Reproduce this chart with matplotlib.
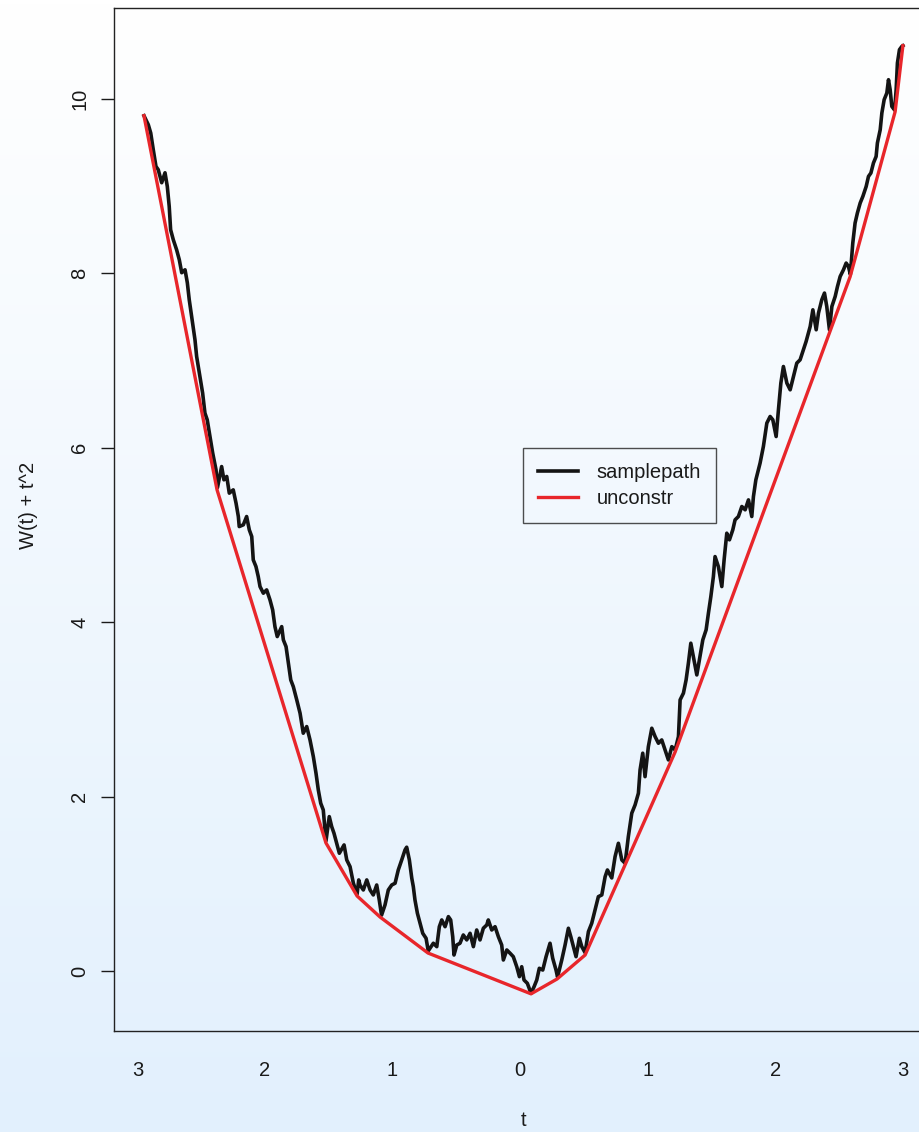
import numpy as np
import matplotlib.pyplot as plt
from matplotlib.colors import LinearSegmentedColormap

plt.rcParams['font.family'] = ['Liberation Sans', 'DejaVu Sans']
plt.rcParams['text.color'] = '#1a1a1a'
plt.rcParams['axes.labelcolor'] = '#1a1a1a'
plt.rcParams['xtick.color'] = '#1a1a1a'
plt.rcParams['ytick.color'] = '#1a1a1a'

# sample path of W(t) + t^2 on [-3, 3]
path_t = [
    -2.949, -2.915, -2.896, -2.876, -2.855, -2.837, -2.810, -2.784, -2.766, -2.751,
    -2.740, -2.719, -2.693, -2.672, -2.653, -2.627, -2.609, -2.594, -2.575, -2.549,
    -2.536, -2.510, -2.489, -2.471, -2.453, -2.431, -2.410, -2.384, -2.373, -2.340,
    -2.322, -2.300, -2.280, -2.249, -2.227, -2.209, -2.202, -2.170, -2.144, -2.123,
    -2.104, -2.092, -2.071, -2.053, -2.039, -2.013, -1.987, -1.961, -1.940, -1.922,
    -1.904, -1.869, -1.856, -1.835, -1.817, -1.798, -1.778, -1.751, -1.725, -1.700,
    -1.673, -1.647, -1.621, -1.600, -1.582, -1.563, -1.543, -1.522, -1.496, -1.477,
    -1.459, -1.438, -1.417, -1.380, -1.359, -1.333, -1.307, -1.278, -1.265, -1.255,
    -1.229, -1.202, -1.176, -1.151, -1.124, -1.104, -1.086, -1.059, -1.033, -1.006,
    -0.980, -0.955, -0.928, -0.902, -0.889, -0.868, -0.849, -0.837, -0.824, -0.805,
    -0.784, -0.763, -0.737, -0.720, -0.680, -0.653, -0.633, -0.614, -0.588, -0.562,
    -0.544, -0.528, -0.518, -0.496, -0.471, -0.445, -0.418, -0.392, -0.366, -0.340,
    -0.314, -0.288, -0.261, -0.249, -0.222, -0.196, -0.170, -0.144, -0.131, -0.104,
    -0.078, -0.053, -0.026, -0.005, 0.013, 0.031, 0.057, 0.086, 0.110, 0.131,
    0.151, 0.178, 0.204, 0.235, 0.256, 0.282, 0.294, 0.327, 0.353, 0.379,
    0.398, 0.418, 0.439, 0.465, 0.484, 0.510, 0.536, 0.562, 0.588, 0.614,
    0.641, 0.667, 0.685, 0.719, 0.745, 0.771, 0.798, 0.824, 0.849, 0.876,
    0.902, 0.928, 0.941, 0.962, 0.980, 1.006, 1.033, 1.059, 1.085, 1.111,
    1.137, 1.163, 1.190, 1.216, 1.242, 1.255, 1.281, 1.302, 1.320, 1.339,
    1.359, 1.386, 1.406, 1.433, 1.459, 1.477, 1.496, 1.516, 1.529, 1.555,
    1.582, 1.600, 1.621, 1.642, 1.668, 1.686, 1.712, 1.739, 1.765, 1.791,
    1.817, 1.830, 1.849, 1.882, 1.908, 1.935, 1.961, 1.982, 2.008, 2.026,
    2.045, 2.065, 2.092, 2.118, 2.144, 2.170, 2.196, 2.222, 2.243, 2.275,
    2.296, 2.322, 2.340, 2.366, 2.387, 2.405, 2.426, 2.445, 2.471, 2.489,
    2.510, 2.536, 2.557, 2.575, 2.590, 2.609, 2.627, 2.645, 2.667, 2.688,
    2.714, 2.732, 2.751, 2.771, 2.792, 2.802, 2.824, 2.837, 2.855, 2.876,
    2.889, 2.902, 2.915, 2.937, 2.949, 2.959, 2.975, 2.994, 3.002,
]
path_v = [
    9.805, 9.702, 9.607, 9.415, 9.224, 9.186, 9.037, 9.151, 8.994, 8.765,
    8.498, 8.383, 8.268, 8.154, 8.005, 8.039, 7.890, 7.695, 7.503, 7.236,
    7.045, 6.815, 6.625, 6.396, 6.319, 6.127, 5.937, 5.745, 5.540, 5.783,
    5.631, 5.669, 5.478, 5.516, 5.363, 5.210, 5.095, 5.115, 5.210, 5.057,
    4.981, 4.713, 4.637, 4.522, 4.407, 4.331, 4.369, 4.255, 4.140, 3.948,
    3.834, 3.948, 3.796, 3.719, 3.529, 3.337, 3.260, 3.108, 2.955, 2.726,
    2.802, 2.649, 2.458, 2.267, 2.076, 1.923, 1.846, 1.490, 1.770, 1.655,
    1.579, 1.464, 1.350, 1.445, 1.273, 1.196, 1.006, 0.880, 1.044, 0.986,
    0.929, 1.044, 0.929, 0.872, 0.986, 0.814, 0.640, 0.757, 0.929, 0.986,
    1.006, 1.158, 1.273, 1.388, 1.419, 1.273, 1.063, 0.967, 0.814, 0.662,
    0.547, 0.432, 0.375, 0.230, 0.318, 0.279, 0.508, 0.585, 0.508, 0.623,
    0.585, 0.393, 0.183, 0.298, 0.318, 0.413, 0.356, 0.432, 0.279, 0.470,
    0.356, 0.490, 0.528, 0.585, 0.470, 0.508, 0.393, 0.298, 0.126, 0.241,
    0.203, 0.164, 0.049, -0.065, 0.049, -0.103, -0.141, -0.255, -0.180, -0.103,
    0.031, 0.011, 0.164, 0.318, 0.146, 0.011, -0.069, 0.126, 0.298, 0.490,
    0.393, 0.279, 0.164, 0.375, 0.279, 0.210, 0.451, 0.547, 0.700, 0.852,
    0.872, 1.081, 1.158, 1.067, 1.311, 1.464, 1.273, 1.235, 1.540, 1.809,
    1.904, 2.038, 2.305, 2.497, 2.228, 2.572, 2.783, 2.687, 2.611, 2.649,
    2.534, 2.420, 2.572, 2.534, 2.687, 3.108, 3.185, 3.337, 3.529, 3.758,
    3.604, 3.394, 3.567, 3.796, 3.911, 4.102, 4.292, 4.522, 4.751, 4.636,
    4.407, 4.713, 5.019, 4.943, 5.057, 5.172, 5.210, 5.325, 5.287, 5.401,
    5.210, 5.439, 5.631, 5.822, 6.013, 6.281, 6.357, 6.319, 6.127, 6.433,
    6.740, 6.930, 6.740, 6.663, 6.815, 6.969, 7.007, 7.122, 7.217, 7.389,
    7.580, 7.351, 7.542, 7.695, 7.772, 7.618, 7.351, 7.618, 7.733, 7.847,
    7.962, 8.039, 8.116, 8.077, 7.985, 8.345, 8.575, 8.689, 8.804, 8.880,
    8.994, 9.109, 9.148, 9.263, 9.338, 9.492, 9.644, 9.836, 9.989, 10.065,
    10.218, 10.103, 9.912, 9.870, 10.103, 10.409, 10.562, 10.600, 10.608,
]

# vertices of the unconstrained fit (convex minorant)
fit_t = [-2.949, -2.376, -1.522, -1.278, -1.098, -0.722, 0.086, 0.290, 0.510,
         1.216, 2.588, 2.941, 3.002]
fit_v = [9.805, 5.516, 1.468, 0.860, 0.619, 0.206, -0.262, -0.092, 0.183,
         2.511, 7.959, 9.851, 10.608]

xtick_pos = [-3, -2, -1, 0, 1, 2, 3]
xtick_lab = ['3', '2', '1', '0', '1', '2', '3']
ytick_pos = [0, 2, 4, 6, 8, 10]

W, H = 919, 1132
fig = plt.figure(figsize=(W / 100, H / 100), dpi=100)

# soft vertical background gradient over the whole figure
bg = fig.add_axes([0, 0, 1, 1], zorder=-10)
grad_cmap = LinearSegmentedColormap.from_list('bg', ['#ffffff', '#e2f0fd'])
bg.imshow(np.linspace(0, 1, 256).reshape(-1, 1), aspect='auto', cmap=grad_cmap,
          extent=[0, 1, 0, 1])
bg.axis('off')

left, right, bottom, top = 114, 933, 1031, 8
ax = fig.add_axes([left / W, 1 - bottom / H, (right - left) / W, (bottom - top) / H])
ax.set_facecolor('none')

ax.plot(path_t, path_v, color='#141414', lw=2.6, solid_joinstyle='round',
        label='samplepath')
ax.plot(fit_t, fit_v, color='#e8262b', lw=2.4, label='unconstr')

ax.set_xlim(-3.184, 3.238)
ax.set_ylim(-0.688, 11.04)

ax.set_xticks(xtick_pos)
ax.set_xticklabels(xtick_lab)
ax.set_yticks(ytick_pos)
ax.tick_params(axis='x', length=0, pad=21.5, labelsize=14.5)
ax.tick_params(axis='y', length=9.4, width=1.0, pad=8.5, labelsize=14.5,
               labelrotation=90)
for lab in ax.get_yticklabels():
    lab.set_verticalalignment('center')

for sp in ax.spines.values():
    sp.set_color('#222222')
    sp.set_linewidth(1.0)

ax.set_xlabel('t', fontsize=14.5)
ax.xaxis.set_label_coords(0.5, -0.087)
ax.xaxis.label.set_verticalalignment('center')
ax.set_ylabel('W(t) + t^2', fontsize=14.5)
ax.yaxis.set_label_coords(-0.104, 0.514)
ax.yaxis.label.set_verticalalignment('center')

leg = ax.legend(loc='upper left', bbox_to_anchor=(0.4995, 0.5699), borderaxespad=0,
                fancybox=False, edgecolor='#222222', facecolor='none',
                handlelength=2.0, handletextpad=0.9, borderpad=0.75,
                labelspacing=0.33, prop={'size': 14.5})
leg.get_frame().set_linewidth(1.0)

fig.savefig('out.png', dpi=100)
